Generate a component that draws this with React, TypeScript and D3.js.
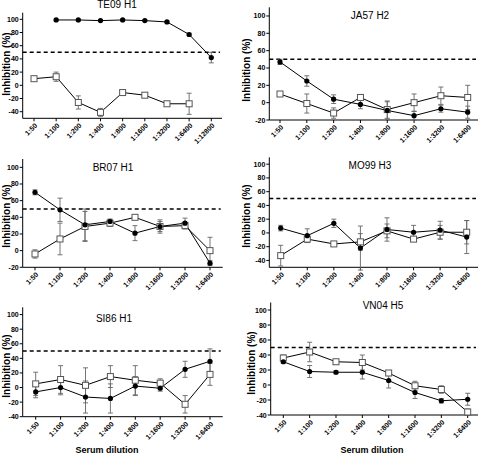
import React from "react";
import * as d3 from "d3";

const dil8 = ["1:50", "1:100", "1:200", "1:400", "1:800", "1:1600", "1:3200", "1:6400"];
const dil9 = [...dil8, "1:12800"];

// TE09 H1
const te09Filled = [null, 99, 99, 98, 99, 98, 96, 77, 42];
const te09FilledErr = [0, 1, 1, 1, 1, 1, 1, 2, 8];
const te09Open = [10, 13, -26, -41, -11, -15, -28, -28, null];
const te09OpenErr = [3, 7, 10, 6, 3, 2, 1, 16, 0];

// JA57 H2
const ja57Filled = [47, 25, 4, -2, -9, -15, -7, -11];
const ja57FilledErr = [3, 6, 5, 5, 10, 5, 4, 7];
const ja57Open = [10, -1, -12, 6, -8, 0, 8, 6];
const ja57OpenErr = [2, 11, 6, 3, 10, 10, 10, 14];

// BR07 H1
const br07Filled = [70, 49, 31, 35, 21, 29, 33, -15];
const br07FilledErr = [3, 14, 19, 3, 9, 8, 6, 3];
const br07Open = [-4, 14, 29, 33, 40, 29, 30, 0];
const br07OpenErr = [5, 19, 18, 4, 2, 6, 4, 16];

// MO99 H3
const mo99Filled = [7, -4, 14, -22, 5, 1, 4, -6];
const mo99FilledErr = [4, 10, 6, 32, 17, 10, 13, 24];
const mo99Open = [-33, -9, -16, -13, 3, -9, 1, 1];
const mo99OpenErr = [15, 5, 3, 12, 10, 3, 10, 17];

// SI86 H1
const si86Filled = [-6, 0, -13, -15, 2, -1, 25, 36];
const si86FilledErr = [8, 10, 22, 20, 13, 4, 11, 17];
const si86Open = [5, 11, 3, 15, 10, 6, -23, 18];
const si86OpenErr = [16, 19, 24, 15, 20, 6, 12, 15];

// VN04 H5
const vn04Filled = [31, 18, 17, 17, 6, -10, -21, -19];
const vn04FilledErr = [2, 8, 2, 9, 10, 8, 3, 8];
const vn04Open = [36, 44, 31, 30, 16, -1, -6, -36];
const vn04OpenErr = [4, 13, 3, 10, 3, 6, 5, 4];

const yTicks = [-40, -20, 0, 20, 40, 60, 80, 100];

type Cfg = {
  title: string;
  cats: string[];
  filled: (number | null)[];
  filledErr: number[];
  open: (number | null)[];
  openErr: number[];
  x0: number;
  xFirst: number;
  xLast: number;
  xEnd: number;
  yTop: number;
  yBot: number;
  yMin: number;
  tx: number;
  ty: number;
  lx: number;
  ly: number;
  xlabel?: number;
};

const panels: Cfg[] = [
  { title: "TE09 H1", cats: dil9, filled: te09Filled, filledErr: te09FilledErr, open: te09Open, openErr: te09OpenErr,
    x0: 22.7, xFirst: 34, xLast: 211.3, xEnd: 222, yTop: 12.7, yBot: 118.3, yMin: -50, tx: 117, ty: 8, lx: 7, ly: 64 },
  { title: "JA57 H2", cats: dil8, filled: ja57Filled, filledErr: ja57FilledErr, open: ja57Open, openErr: ja57OpenErr,
    x0: 269.3, xFirst: 280, xLast: 467.7, xEnd: 478, yTop: 7.3, yBot: 120, yMin: -20, tx: 370, ty: 19, lx: 247, ly: 70 },
  { title: "BR07 H1", cats: dil8, filled: br07Filled, filledErr: br07FilledErr, open: br07Open, openErr: br07OpenErr,
    x0: 22.7, xFirst: 35, xLast: 210, xEnd: 222.7, yTop: 159, yBot: 267.3, yMin: -20, tx: 113, ty: 171, lx: 7, ly: 216 },
  { title: "MO99 H3", cats: dil8, filled: mo99Filled, filledErr: mo99FilledErr, open: mo99Open, openErr: mo99OpenErr,
    x0: 269.3, xFirst: 280.7, xLast: 466.7, xEnd: 478, yTop: 157.3, yBot: 267.3, yMin: -50, tx: 370, ty: 169, lx: 247, ly: 216 },
  { title: "SI86 H1", cats: dil8, filled: si86Filled, filledErr: si86FilledErr, open: si86Open, openErr: si86OpenErr,
    x0: 22.7, xFirst: 35.7, xLast: 210, xEnd: 222.7, yTop: 307.3, yBot: 416.7, yMin: -40, tx: 114, ty: 322, lx: 7, ly: 366, xlabel: 107 },
  { title: "VN04 H5", cats: dil8, filled: vn04Filled, filledErr: vn04FilledErr, open: vn04Open, openErr: vn04OpenErr,
    x0: 270.7, xFirst: 283.3, xLast: 467.7, xEnd: 478, yTop: 302.5, yBot: 415, yMin: -40, tx: 383, ty: 309, lx: 252, ly: 363, xlabel: 372 },
];

const FONT = "Liberation Sans, Arial, sans-serif";

function Panel({ c }: { c: Cfg }) {
  const x = d3.scalePoint<string>().domain(c.cats).range([c.xFirst, c.xLast]);
  const y = d3.scaleLinear().domain([c.yMin, 110]).range([c.yBot, c.yTop]);
  const line = d3
    .line<[string, number | null]>()
    .defined((d) => d[1] !== null)
    .x((d) => x(d[0]) as number)
    .y((d) => y(d[1] as number));
  const fPts = c.cats.map((k, i) => [k, c.filled[i]] as [string, number | null]);
  const oPts = c.cats.map((k, i) => [k, c.open[i]] as [string, number | null]);
  const ticks = yTicks.filter((t) => t >= c.yMin);

  const errBars = (vals: (number | null)[], errs: number[], key: string) =>
    vals.map((v, i) => {
      if (v === null || !errs[i]) return null;
      const cx = x(c.cats[i]) as number;
      const a = y(v + errs[i]);
      const b = y(v - errs[i]);
      return (
        <g key={key + i} stroke="#666" strokeWidth={0.9}>
          <line x1={cx} x2={cx} y1={a} y2={b} />
          <line x1={cx - 2.5} x2={cx + 2.5} y1={a} y2={a} />
          <line x1={cx - 2.5} x2={cx + 2.5} y1={b} y2={b} />
        </g>
      );
    });

  return (
    <g>
      <text x={c.tx} y={c.ty} textAnchor="middle" fontSize={10} fontFamily={FONT}>{c.title}</text>
      <text transform={`translate(${c.lx},${c.ly}) rotate(-90)`} textAnchor="middle" dominantBaseline="middle"
        fontSize={10} fontWeight="bold" fontFamily={FONT}>Inhibition (%)</text>
      {/* axes */}
      <line x1={c.x0} x2={c.x0} y1={c.yTop} y2={c.yBot} stroke="#000" strokeWidth={1} />
      <line x1={c.x0} x2={c.xEnd} y1={c.yBot} y2={c.yBot} stroke="#000" strokeWidth={1} />
      {ticks.map((t) => (
        <g key={"yt" + t}>
          <line x1={c.x0 - 3} x2={c.x0} y1={y(t)} y2={y(t)} stroke="#000" />
          <text x={c.x0 - 4} y={y(t)} textAnchor="end" dominantBaseline="central" fontSize={7} fontWeight="bold"
            fontFamily={FONT}>{t}</text>
        </g>
      ))}
      {c.cats.map((k) => {
        const cx = x(k) as number;
        return (
          <g key={"xt" + k}>
            <line x1={cx} x2={cx} y1={c.yBot} y2={c.yBot + 3} stroke="#000" />
            <text transform={`translate(${cx + 2},${c.yBot + 6}) rotate(-45)`} textAnchor="end" dominantBaseline="central"
              fontSize={7} fontWeight="bold" fontFamily={FONT}>{k}</text>
          </g>
        );
      })}
      {/* 50% threshold */}
      <line x1={c.x0} x2={c.xEnd - 2} y1={y(50)} y2={y(50)} stroke="#000" strokeWidth={1.6} strokeDasharray="4,3" />
      {errBars(c.open, c.openErr, "oe")}
      {errBars(c.filled, c.filledErr, "fe")}
      <path d={line(oPts) || ""} fill="none" stroke="#000" strokeWidth={1} />
      <path d={line(fPts) || ""} fill="none" stroke="#000" strokeWidth={1} />
      {oPts.map((d, i) =>
        d[1] === null ? null : (
          <rect key={"o" + i} x={(x(d[0]) as number) - 3} y={y(d[1]) - 3} width={6} height={6} fill="#fff"
            stroke="#555" strokeWidth={1} />
        )
      )}
      {fPts.map((d, i) =>
        d[1] === null ? null : <circle key={"f" + i} cx={x(d[0]) as number} cy={y(d[1])} r={2.6} fill="#000" />
      )}
      {c.xlabel !== undefined && (
        <text x={c.xlabel} y={453} textAnchor="middle" fontSize={9} fontWeight="bold" fontFamily={FONT}>
          Serum dilution
        </text>
      )}
    </g>
  );
}

export default function App() {
  return (
    <svg width={478} height={457} style={{ position: "absolute", left: 0, top: 0, background: "#fff" }}>
      <rect width={478} height={457} fill="#fff" />
      {panels.map((p) => (
        <Panel key={p.title} c={p} />
      ))}
    </svg>
  );
}
